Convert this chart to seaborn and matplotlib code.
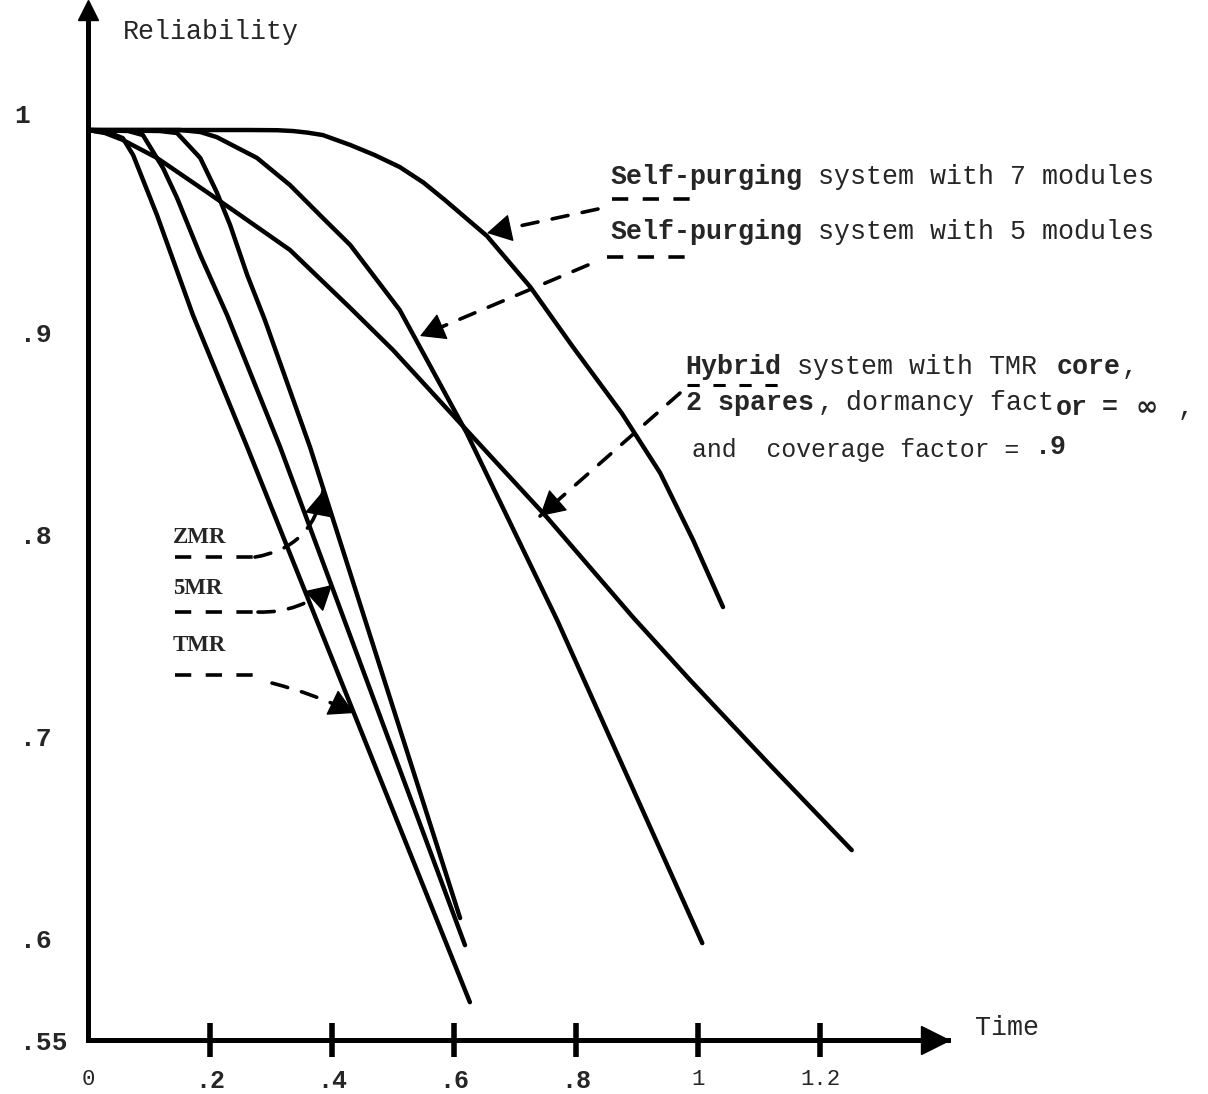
import numpy as np
import pandas as pd
import matplotlib
matplotlib.use("Agg")
import matplotlib.pyplot as plt
import seaborn as sns

# ---------------- data ----------------
tmr_t = [0, 0.036, 0.057, 0.074, 0.113, 0.172, 0.261, 0.626]
tmr_r = [1.0, 0.9985, 0.9960, 0.9876, 0.9580, 0.9085, 0.8432, 0.5687]

mr5_t = [0, 0.066, 0.090, 0.123, 0.146, 0.184, 0.228, 0.315, 0.618]
mr5_r = [1.0, 0.9995, 0.9975, 0.9812, 0.9664, 0.9382, 0.9085, 0.8432, 0.5969]

mr7_t = [0, 0.118, 0.146, 0.184, 0.211, 0.233, 0.261, 0.290, 0.364, 0.610]
mr7_r = [1.0, 0.9995, 0.9985, 0.9862, 0.9693, 0.9530, 0.9283, 0.9060, 0.8432, 0.6103]

hyb_t = [0, 0.028, 0.057, 0.113, 0.195, 0.249, 0.331, 0.430, 0.500, 0.631,
         0.752, 0.893, 0.987, 1.118, 1.252]
hyb_r = [1.0, 0.9985, 0.9951, 0.9862, 0.9693, 0.9580, 0.9407, 0.9120, 0.8912,
         0.8482, 0.8086, 0.7592, 0.7280, 0.6860, 0.6439]

sp5_t = [0, 0.151, 0.184, 0.211, 0.277, 0.331, 0.385, 0.430, 0.511, 0.621, 0.769, 1.007]
sp5_r = [1.0, 1.0, 0.9990, 0.9965, 0.9862, 0.9728, 0.9565, 0.9431, 0.9110, 0.8501,
         0.7577, 0.5979]

sp7_t = [0, 0.266, 0.310, 0.336, 0.360, 0.385, 0.430, 0.470, 0.511, 0.550, 0.585,
         0.654, 0.725, 0.795, 0.875, 0.938, 0.992, 1.041]
sp7_r = [1.0, 1.0, 0.9999, 0.9995, 0.9987, 0.9975, 0.9926, 0.9876, 0.9817, 0.9740,
         0.9654, 0.9476, 0.9224, 0.8927, 0.8600, 0.8304, 0.7972, 0.7641]

x_ticks = [0, 0.2, 0.4, 0.6, 0.8, 1.0, 1.2]
x_tick_labels = ["0", ".2", ".4", ".6", ".8", "1", "1.2"]
y_ticks = [0.55, 0.6, 0.7, 0.8, 0.9, 1.0]
y_tick_labels = [".55", ".6", ".7", ".8", ".9", ""]
y_top_label = "1"

series = {
    "TMR": (tmr_t, tmr_r),
    "5MR": (mr5_t, mr5_r),
    "7MR": (mr7_t, mr7_r),
    "Hybrid": (hyb_t, hyb_r),
    "SP5": (sp5_t, sp5_r),
    "SP7": (sp7_t, sp7_r),
}
df = pd.concat(
    [pd.DataFrame({"Time": t, "Reliability": r, "system": k}) for k, (t, r) in series.items()],
    ignore_index=True,
)

# ---------------- style ----------------
sns.set_theme(style="white")
MONO = ["Liberation Mono", "DejaVu Sans Mono", "DejaVu Sans"]
SERIF = ["Liberation Serif", "DejaVu Serif"]
plt.rcParams["font.family"] = MONO

W, H = 1208, 1094
fig = plt.figure(figsize=(W / 100, H / 100), dpi=100)
ax = fig.add_axes([88 / W, 1 - 1040 / H, 860 / W, 1030 / H])

X_MAX = 860 / 610
Y_MIN, Y_MAX = 0.55, 1 + 120 / 2022
ax.set_xlim(0, X_MAX)
ax.set_ylim(Y_MIN, Y_MAX)


def P(px, py):
    """reference-pixel position -> data coordinates (for annotations only)"""
    return ((px - 88) / 610, 1 - (py - 130) / 2022)


sns.lineplot(data=df, x="Time", y="Reliability", hue="system", units="system",
             estimator=None, sort=False, legend=False,
             palette={k: "black" for k in series}, linewidth=3.2, ax=ax)
for ln in ax.get_lines():
    ln.set_solid_capstyle("round")
    ln.set_solid_joinstyle("round")
ax.set_xlabel("")
ax.set_ylabel("")

# axes
for s in ["top", "right"]:
    ax.spines[s].set_visible(False)
for s in ["left", "bottom"]:
    ax.spines[s].set_linewidth(3.6)
    ax.spines[s].set_color("black")
ax.plot(0, 1, marker="^", color="black", ms=14, transform=ax.transAxes, clip_on=False)
ax.plot(0.985, 0, marker=">", color="black", ms=20, transform=ax.transAxes, clip_on=False)

ax.set_xticks(x_ticks)
ax.set_xticklabels(x_tick_labels)
ax.tick_params(axis="x", bottom=True, direction="inout", length=24, width=4,
               color="black", pad=9)
ax.xaxis.get_major_ticks()[0].tick1line.set_visible(False)
for lab in ax.get_xticklabels():
    if lab.get_text().startswith("."):
        lab.set_fontweight("bold")
        lab.set_fontsize(18)
    else:
        lab.set_fontsize(16)
    lab.set_family(MONO)

ax.set_yticks(y_ticks)
ax.set_yticklabels(y_tick_labels)
ax.tick_params(axis="y", left=False, length=0, pad=49)
for lab in ax.get_yticklabels():
    lab.set_fontweight("bold")
    lab.set_fontsize(19)
    lab.set_horizontalalignment("left")
    lab.set_family(MONO)
ax.grid(False)


def seg(px, py, txt, bold=False, size=19.2, fam=MONO):
    ax.text(*P(px, py), txt, fontsize=size, fontweight="bold" if bold else "normal",
            family=fam, va="center", ha="left", clip_on=False)


seg(14, 116, y_top_label, bold=True, size=19)

# axis titles
seg(123, 32, "Reliability")
seg(975, 1028, "Time")

DASH = dict(color="black", lw=2.6, linestyle=(0, (4.5, 4)), clip_on=False,
            solid_capstyle="butt", dash_capstyle="butt")


def dline(pts, **kw):
    xs, ys = zip(*[P(*p) for p in pts])
    d = dict(DASH)
    d.update(kw)
    ax.plot(xs, ys, **d)


def darrow(p0, p1, rad=0.0):
    # dashed shaft
    ax.annotate("", xy=P(*p1), xytext=P(*p0),
                arrowprops=dict(arrowstyle="-", color="black", lw=2.6,
                                linestyle=(0, (4.5, 4)), shrinkA=0, shrinkB=0,
                                connectionstyle=f"arc3,rad={rad}"))
    # solid head along the end tangent
    x0, y0 = p0[0], -p0[1]
    x1, y1 = p1[0], -p1[1]
    dx, dy = x1 - x0, y1 - y0
    cx, cy = (x0 + x1) / 2 + rad * dy, (y0 + y1) / 2 - rad * dx
    tx, ty = x1 - cx, y1 - cy
    n = np.hypot(tx, ty)
    hx, hy = x1 - 14 * tx / n, y1 - 14 * ty / n
    ax.annotate("", xy=P(*p1), xytext=P(hx, -hy),
                arrowprops=dict(arrowstyle="-|>,head_length=0.8,head_width=0.45",
                                color="black", lw=1, mutation_scale=20,
                                shrinkA=0, shrinkB=0))


# Self-purging 7
seg(610, 177, "Self-purging", bold=True)
seg(818, 177, "system with 7 modules")
dline([(612, 199), (690, 199)])
darrow((598, 209), (487, 233))

# Self-purging 5
seg(610, 232, "Self-purging", bold=True)
seg(818, 232, "system with 5 modules")
dline([(607, 257), (687, 257)])
darrow((588, 265), (420, 336))

# Hybrid
seg(685, 367, "Hybrid", bold=True)
seg(797, 367, "system with TMR")
seg(1057, 367, "core", bold=True)
seg(1122, 367, ",")
seg(686, 403, "2 spares", bold=True)
seg(818, 403, ",")
seg(846, 403, "dormancy fact")
seg(1056, 408, "or", bold=True)
seg(1102, 408, "=", bold=True)
seg(1136, 408, "\u221e", bold=True, fam=["DejaVu Sans"])
seg(1178, 408, ",")
seg(692, 450, "and  coverage factor =", size=17.9)
seg(1035, 447, ".9", bold=True)
dline([(687, 385), (778, 385)], lw=2.2, linestyle=(0, (4, 4.5)))
darrow((680, 393), (540, 516))

# NMR labels
seg(173, 537, "ZMR", bold=True, size=16.5, fam=SERIF)
seg(173, 588, "5MR", bold=True, size=16.5, fam=SERIF)
seg(173, 645, "TMR", bold=True, size=16.5, fam=SERIF)
dline([(175, 557), (255, 557)])
darrow((255, 557), (323, 491), rad=0.35)
dline([(175, 612), (258, 612)])
darrow((258, 612), (332, 585), rad=0.2)
dline([(175, 675), (265, 675)])
darrow((272, 683), (354, 713), rad=-0.05)

fig.savefig("out.png", dpi=100, facecolor="white")
